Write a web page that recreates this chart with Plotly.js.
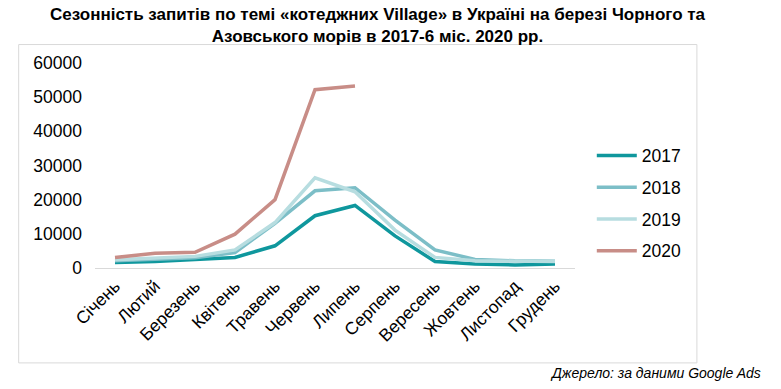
<!DOCTYPE html>
<html>
<head>
<meta charset="utf-8">
<script src="https://cdn.plot.ly/plotly-3.0.1.min.js"></script>
<style>
  html, body { margin: 0; padding: 0; background: #ffffff; }
  #chart { width: 781px; height: 389px; }
</style>
</head>
<body>
<div id="chart"></div>
<script>
const months = ["Січень", "Лютий", "Березень", "Квітень", "Травень", "Червень",
                "Липень", "Серпень", "Вересень", "Жовтень", "Листопад", "Грудень"];
const years = ["2017", "2018", "2019", "2020"];
const v2017 = [1600, 1900, 2500, 3100, 6500, 15300, 18300, 9400, 1900, 1200, 900, 1200];
const v2018 = [2100, 2600, 3000, 4500, 13100, 22600, 23500, 14000, 5300, 2500, 2100, 2000];
const v2019 = [2400, 2900, 3400, 5300, 13300, 26400, 22300, 11100, 3100, 2100, 2000, 1900];
const v2020 = [3100, 4300, 4600, 9900, 20000, 52200, 53300];
const colors = ["#0f979d", "#7cbec7", "#b7dde0", "#c88d87"];
const titleText = "Сезонність запитів по темі «котеджних Village» в Україні на березі Чорного та<br>Азовського морів в 2017-6 міс. 2020 рр.";
const sourceText = "Джерело: за даними Google Ads";

const series = [v2017, v2018, v2019, v2020];
const traces = series.map((vals, i) => ({
  type: "scatter",
  mode: "lines",
  name: years[i],
  legendgroup: years[i],
  x: months.slice(0, vals.length),
  y: vals,
  line: { color: colors[i], width: 3.5 },
  hoverinfo: "x+y+name"
}));

const layout = {
  width: 781,
  height: 389,
  paper_bgcolor: "#ffffff",
  plot_bgcolor: "rgba(0,0,0,0)",
  font: { family: "Liberation Sans, Arial, sans-serif", color: "#000000" },
  margin: { l: 95, r: 206, t: 63, b: 121 },
  xaxis: {
    type: "category",
    categoryorder: "array",
    categoryarray: months,
    range: [-0.5, 11.5],
    showgrid: false,
    zeroline: false,
    showline: true,
    linecolor: "#d9d9d9",
    linewidth: 1,
    ticks: "",
    tickangle: -45,
    tickfont: { size: 17.5, color: "#000000" },
    fixedrange: true
  },
  yaxis: {
    range: [0, 60000],
    tickvals: [0, 10000, 20000, 30000, 40000, 50000, 60000],
    ticktext: ["0", "10000", "20000", "30000", "40000", "50000", "60000"],
    showgrid: false,
    zeroline: false,
    showline: false,
    ticks: "",
    ticklabelstandoff: 12,
    tickfont: { size: 17.5, color: "#000000" },
    fixedrange: true
  },
  showlegend: true,
  legend: {
    x: 1.035, xanchor: "left",
    y: 0.317, yanchor: "middle",
    font: { size: 17.5, color: "#000000" },
    tracegroupgap: 6,
    itemwidth: 40,
    bgcolor: "rgba(0,0,0,0)"
  },
  shapes: [{
    type: "rect",
    xref: "paper", yref: "paper",
    x0: -0.159, x1: 1.254, y0: -0.463, y1: 1.090,
    line: { color: "#d9d9d9", width: 1 },
    fillcolor: "rgba(0,0,0,0)",
    layer: "below"
  }],
  annotations: [{
    text: "<b>" + titleText + "</b>",
    xref: "paper", yref: "paper",
    x: 0.589, xanchor: "center",
    y: 1.183, yanchor: "middle",
    showarrow: false,
    align: "center",
    font: { size: 17, color: "#000000" }
  }, {
    text: "<i>" + sourceText + "</i>",
    xref: "paper", yref: "paper",
    x: 1.392, xanchor: "right",
    y: -0.51, yanchor: "middle",
    showarrow: false,
    font: { size: 14, color: "#000000" }
  }]
};

Plotly.newPlot("chart", traces, layout, { displayModeBar: false, staticPlot: true });
</script>
</body>
</html>
